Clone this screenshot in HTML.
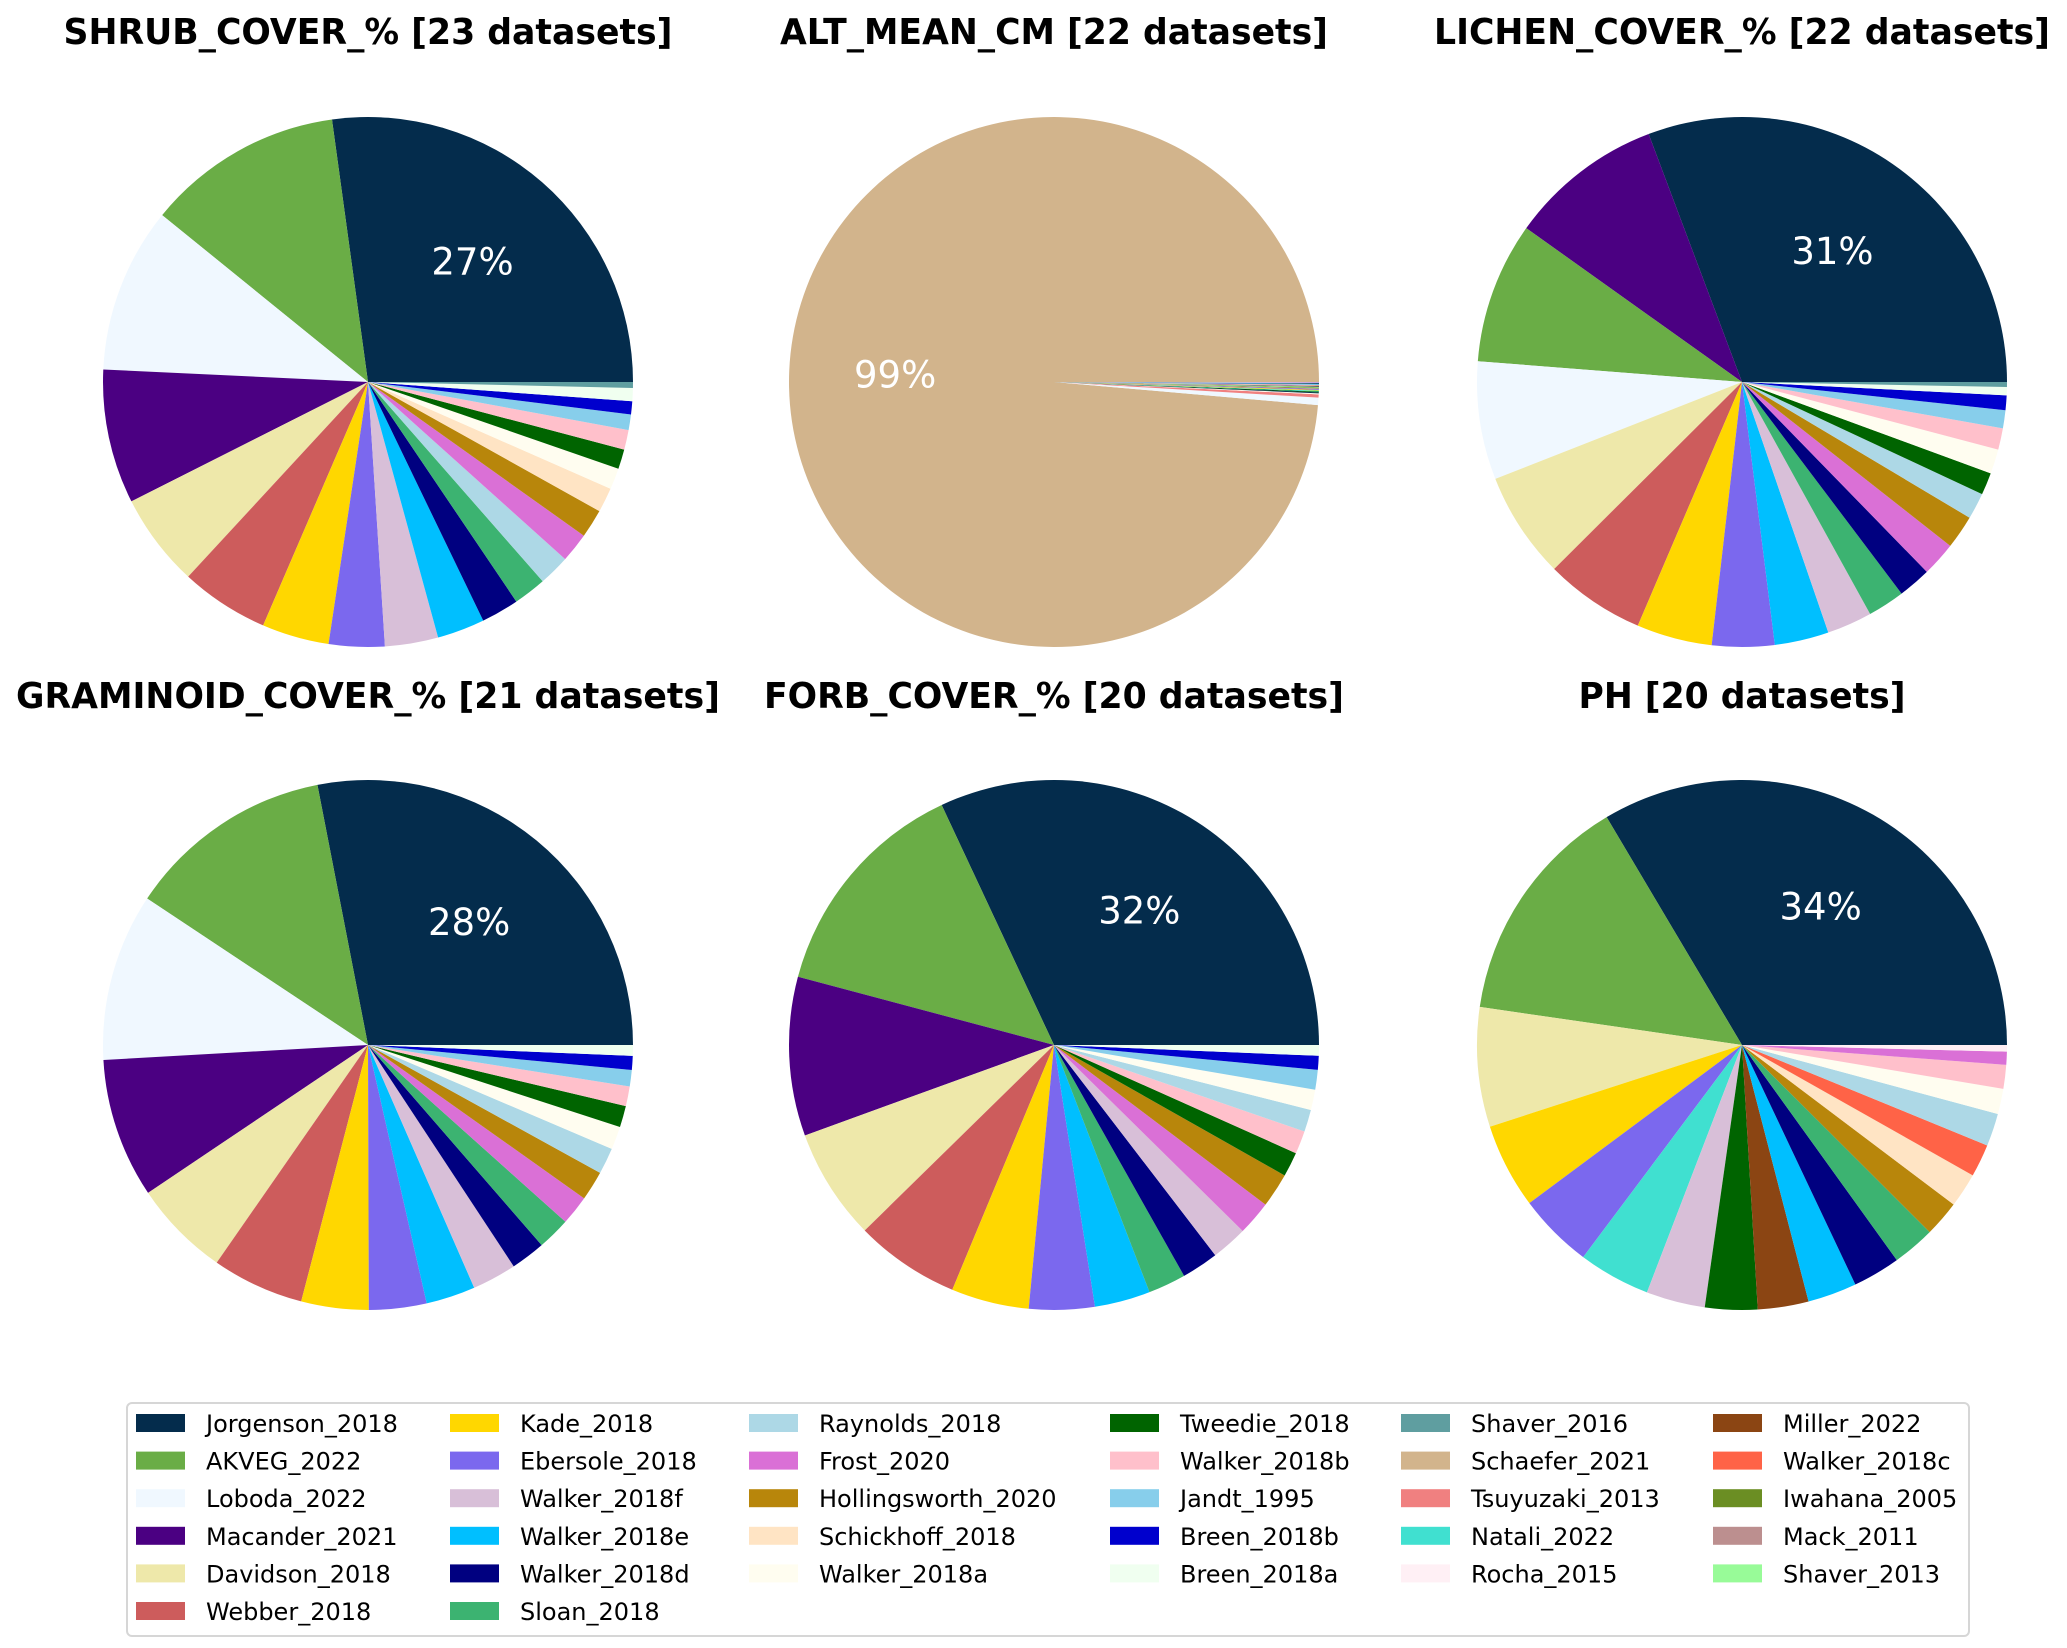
<!DOCTYPE html>
<html><head><meta charset="utf-8">
<style>
html,body{margin:0;padding:0;background:#fff;}
svg{display:block;}
</style></head>
<body>
<svg id="chart" width="2067" height="1648" viewBox="0 0 2067 1648" xmlns="http://www.w3.org/2000/svg">
<rect width="2067" height="1648" fill="#fff"/>
<g id="pies"></g>
<g id="legend"></g>
</svg>
<script>
const datasetNames = ["Jorgenson_2018","AKVEG_2022","Loboda_2022","Macander_2021","Davidson_2018","Webber_2018","Kade_2018","Ebersole_2018","Walker_2018f","Walker_2018e","Walker_2018d","Sloan_2018","Raynolds_2018","Frost_2020","Hollingsworth_2020","Schickhoff_2018","Walker_2018a","Tweedie_2018","Walker_2018b","Jandt_1995","Breen_2018b","Breen_2018a","Shaver_2016","Schaefer_2021","Tsuyuzaki_2013","Natali_2022","Rocha_2015","Miller_2022","Walker_2018c","Iwahana_2005","Mack_2011","Shaver_2013"];
const datasetColors = ["#042c4c","#6aad46","#f0f8ff","#4b0082","#eee8aa","#cd5c5c","#ffd700","#7b68ee","#d8bfd8","#00bfff","#000080","#3cb371","#add8e6","#da70d6","#b8860b","#ffe4c4","#fffdf0","#006400","#ffc0cb","#87ceeb","#0000cd","#f0fff0","#5f9ea0","#d2b48c","#f08080","#40e0d0","#fff0f5","#8b4513","#ff6347","#6b8e23","#bc8f8f","#98fb98"];

const chartTitles = ["SHRUB_COVER_% [23 datasets]","ALT_MEAN_CM [22 datasets]","LICHEN_COVER_% [22 datasets]","GRAMINOID_COVER_% [21 datasets]","FORB_COVER_% [20 datasets]","PH [20 datasets]"];

const shrubNames = ["Jorgenson_2018","AKVEG_2022","Loboda_2022","Macander_2021","Davidson_2018","Webber_2018","Kade_2018","Ebersole_2018","Walker_2018f","Walker_2018e","Walker_2018d","Sloan_2018","Raynolds_2018","Frost_2020","Hollingsworth_2020","Schickhoff_2018","Walker_2018a","Tweedie_2018","Walker_2018b","Jandt_1995","Breen_2018b","Breen_2018a","Shaver_2016"];
const shrubValues = [27.2,12.0,10.1,8.2,5.7,5.4,4.1,3.4,3.25,2.9,2.3,2.0,1.9,1.8,1.75,1.5,1.3,1.2,1.2,0.95,0.8,0.8,0.36];

const altNames = ["Schaefer_2021","Loboda_2022","Tsuyuzaki_2013","Walker_2018a","Jorgenson_2018","Tweedie_2018","Natali_2022","Kade_2018","Ebersole_2018","Mack_2011","Iwahana_2005","Shaver_2013","AKVEG_2022","Macander_2021","Davidson_2018","Webber_2018","Walker_2018f","Walker_2018e","Walker_2018d","Sloan_2018","Raynolds_2018","Frost_2020"];
const altValues = [98.6,0.45,0.2,0.06,0.06,0.05,0.05,0.05,0.05,0.04,0.04,0.04,0.03,0.03,0.03,0.03,0.03,0.03,0.03,0.03,0.03,0.03];

const lichenNames = ["Jorgenson_2018","Macander_2021","AKVEG_2022","Loboda_2022","Davidson_2018","Webber_2018","Kade_2018","Ebersole_2018","Walker_2018e","Walker_2018f","Sloan_2018","Walker_2018d","Frost_2020","Hollingsworth_2020","Raynolds_2018","Tweedie_2018","Walker_2018a","Walker_2018b","Jandt_1995","Breen_2018b","Breen_2018a","Shaver_2016"];
const lichenValues = [30.7,9.4,8.6,7.2,6.5,6.1,4.6,3.8,3.3,2.75,2.25,2.0,2.1,2.05,1.6,1.35,1.5,1.3,1.1,0.9,0.5,0.3];

const graminoidNames = ["Jorgenson_2018","AKVEG_2022","Loboda_2022","Macander_2021","Davidson_2018","Webber_2018","Kade_2018","Ebersole_2018","Walker_2018e","Walker_2018f","Walker_2018d","Sloan_2018","Frost_2020","Hollingsworth_2020","Raynolds_2018","Walker_2018a","Tweedie_2018","Walker_2018b","Jandt_1995","Breen_2018b","Breen_2018a"];
const graminoidValues = [28.0,12.6,10.2,8.5,5.9,5.6,4.1,3.5,3.0,2.7,2.1,2.0,1.8,1.8,1.6,1.4,1.3,1.2,1.0,0.85,0.65];

const forbNames = ["Jorgenson_2018","AKVEG_2022","Macander_2021","Davidson_2018","Webber_2018","Kade_2018","Ebersole_2018","Walker_2018e","Sloan_2018","Walker_2018d","Walker_2018f","Frost_2020","Hollingsworth_2020","Tweedie_2018","Walker_2018b","Raynolds_2018","Walker_2018a","Jandt_1995","Breen_2018b","Breen_2018a"];
const forbValues = [32.0,13.9,9.7,6.8,6.4,4.75,4.0,3.4,2.3,2.25,2.2,2.1,2.1,1.5,1.4,1.35,1.25,1.2,0.85,0.65];

const phNames = ["Jorgenson_2018","AKVEG_2022","Davidson_2018","Kade_2018","Ebersole_2018","Natali_2022","Walker_2018f","Tweedie_2018","Miller_2022","Walker_2018e","Walker_2018d","Sloan_2018","Hollingsworth_2020","Schickhoff_2018","Walker_2018c","Raynolds_2018","Walker_2018a","Walker_2018b","Frost_2020","Rocha_2015"];
const phValues = [33.6,14.2,7.3,5.2,4.6,4.4,3.6,3.2,3.1,3.0,2.9,2.6,2.2,2.1,2.0,2.0,1.55,1.45,0.8,0.4];

const pieNames = [shrubNames, altNames, lichenNames, graminoidNames, forbNames, phNames];
const pieValues = [shrubValues, altValues, lichenValues, graminoidValues, forbValues, phValues];
const titleWidths = [609,548,616,704,580,327];
const pieSlugs = ["shrub-cover","alt-mean","lichen-cover","graminoid-cover","forb-cover","ph"];

const NS = "http://www.w3.org/2000/svg";
const centersX = [368,1054,1742];
const centersY = [382,1045];
const titleY = [44,708];
const R = 265;

function colorOf(name){ return datasetColors[datasetNames.indexOf(name)]; }
function pt(cx,cy,r,deg){ const a=deg*Math.PI/180; return [cx+r*Math.cos(a), cy-r*Math.sin(a)]; }

const piesG = document.getElementById('pies');
for (let p=0;p<6;p++){
  const cx = centersX[p%3], cy = centersY[Math.floor(p/3)];
  const g = document.createElementNS(NS,'g');
  
  
  piesG.appendChild(g);
  const t = document.createElementNS(NS,'text');
  
  
  t.setAttribute('x', cx); t.setAttribute('y', titleY[Math.floor(p/3)]);
  t.setAttribute('text-anchor','middle');
  t.setAttribute('font-family','"DejaVu Sans","Liberation Sans",sans-serif');
  t.setAttribute('font-weight','bold'); t.setAttribute('font-size','36');
  t.setAttribute('textLength', titleWidths[p]); t.setAttribute('lengthAdjust','spacingAndGlyphs');
  t.textContent = chartTitles[p];
  g.appendChild(t);
  const vals = pieValues[p], names = pieNames[p];
  const total = vals.reduce((a,b)=>a+b,0);
  let start = 0;
  for (let i=0;i<vals.length;i++){
    const sweep = vals[i]/total*360;
    const end = start+sweep;
    const [x1,y1]=pt(cx,cy,R,start), [x2,y2]=pt(cx,cy,R,end);
    const path = document.createElementNS(NS,'path');
    
    
    path.setAttribute('d', `M${cx},${cy} L${x1},${y1} A${R},${R} 0 ${sweep>180?1:0} 0 ${x2},${y2} Z`);
    path.setAttribute('fill', colorOf(names[i]));
    g.appendChild(path);
    const pct = vals[i]/total*100;
    if (pct >= 20){
      const [lx,ly] = pt(cx,cy,R*0.6,(start+end)/2);
      const lt = document.createElementNS(NS,'text');
      
      
      lt.setAttribute('x', lx); lt.setAttribute('y', ly);
      lt.setAttribute('text-anchor','middle'); lt.setAttribute('dominant-baseline','central');
      lt.setAttribute('font-family','"DejaVu Sans","Liberation Sans",sans-serif');
      lt.setAttribute('font-size','37'); lt.setAttribute('fill','#fff');
      lt.textContent = Math.round(pct)+'%';
      g.appendChild(lt);
    }
    start = end;
  }
}

// legend
const legG = document.getElementById('legend');
const box = document.createElementNS(NS,'rect');


box.setAttribute('x',127); box.setAttribute('y',1403); box.setAttribute('width',1842); box.setAttribute('height',233);
box.setAttribute('rx',5); box.setAttribute('fill','#fff'); box.setAttribute('stroke','#d6d6d6'); box.setAttribute('stroke-width','2');
legG.appendChild(box);
const colX = [136,450,749,1110,1401,1713];
const colCounts = [6,6,5,5,5,5];
let idx = 0;
for (let c=0;c<6;c++){
  for (let r=0;r<colCounts[c];r++){
    const yc = 1423 + r*37.6;
    const eg = document.createElementNS(NS,'g');
    
    
    const sw = document.createElementNS(NS,'rect');
    
    
    sw.setAttribute('x', colX[c]); sw.setAttribute('y', yc-9); sw.setAttribute('width', 49); sw.setAttribute('height', 18);
    sw.setAttribute('fill', datasetColors[idx]);
    eg.appendChild(sw);
    const lt = document.createElementNS(NS,'text');
    
    
    lt.setAttribute('x', colX[c]+70); lt.setAttribute('y', yc+9);
    lt.setAttribute('font-family','"DejaVu Sans","Liberation Sans",sans-serif');
    lt.setAttribute('font-size','24'); lt.setAttribute('fill','#000');
    lt.textContent = datasetNames[idx];
    eg.appendChild(lt);
    legG.appendChild(eg);
    idx++;
  }
}
</script>
</body></html>
